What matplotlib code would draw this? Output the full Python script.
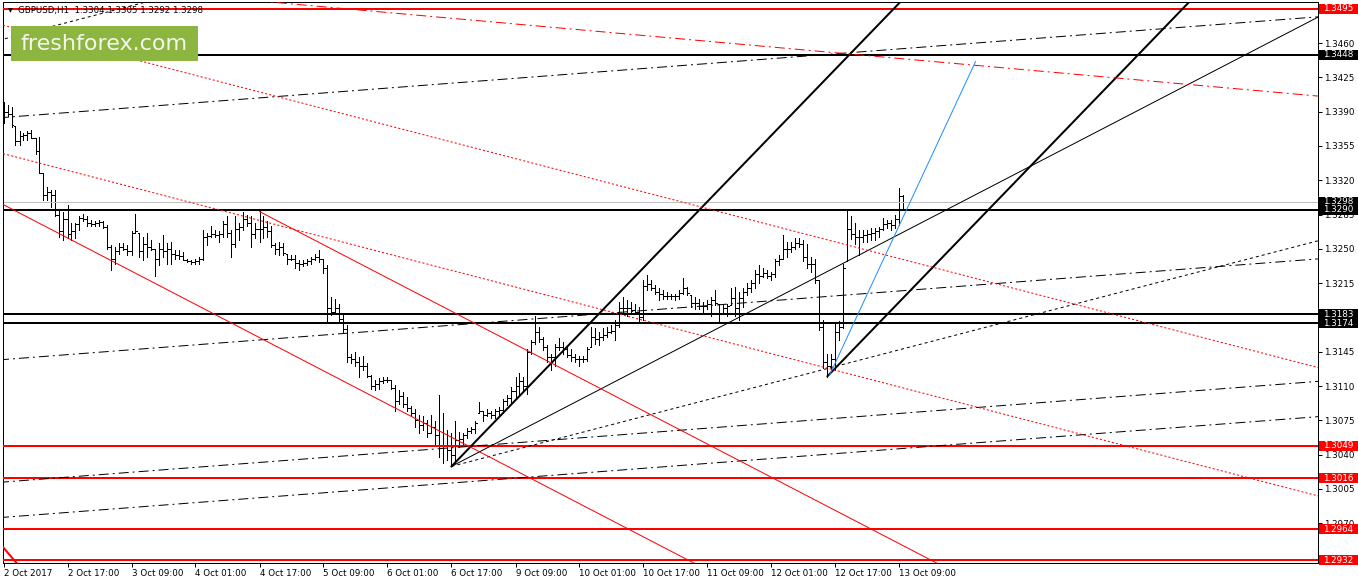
import matplotlib
matplotlib.use("Agg")
import matplotlib.pyplot as plt
import numpy as np
from matplotlib.collections import LineCollection
from matplotlib.patches import Rectangle
from matplotlib.transforms import blended_transform_factory

plt.rcParams['font.family'] = ['DejaVu Sans']
plt.rcParams['lines.scale_dashes'] = False

# GBPUSD H1 bars, prices in pips (13400 -> 1.3400), one entry per hour
highs = [
    13400, 13397, 13395, 13375, 13370, 13368, 13370, 13371, 13363, 13364,
    13327, 13313, 13310, 13310, 13290, 13288, 13295, 13276, 13276, 13283,
    13286, 13283, 13279, 13278, 13279, 13278, 13274, 13254, 13252, 13256,
    13256, 13254, 13268, 13286, 13266, 13262, 13266, 13259, 13250, 13256,
    13264, 13256, 13257, 13249, 13249, 13247, 13240, 13239, 13240, 13242,
    13269, 13266, 13273, 13269, 13268, 13278, 13283, 13269, 13283, 13276,
    13288, 13284, 13283, 13276, 13290, 13283, 13278, 13273, 13256, 13257,
    13256, 13245, 13244, 13244, 13239, 13239, 13240, 13242, 13245, 13249,
    13240, 13233, 13201, 13199, 13194, 13182, 13172, 13143, 13145, 13140,
    13141, 13133, 13121, 13116, 13118, 13119, 13119, 13116, 13111, 13106,
    13104, 13099, 13090, 13087, 13080, 13079, 13075, 13080, 13074, 13101,
    13082, 13065, 13062, 13074, 13063, 13062, 13067, 13068, 13074, 13094,
    13084, 13087, 13085, 13087, 13089, 13097, 13101, 13109, 13119, 13123,
    13119, 13148, 13157, 13181, 13170, 13160, 13152, 13143, 13153, 13159,
    13155, 13150, 13148, 13143, 13141, 13141, 13150, 13170, 13169, 13165,
    13169, 13170, 13172, 13177, 13196, 13201, 13198, 13196, 13194, 13191,
    13218, 13223, 13218, 13213, 13210, 13208, 13206, 13204, 13204, 13208,
    13220, 13211, 13203, 13201, 13199, 13196, 13198, 13201, 13208, 13194,
    13194, 13194, 13210, 13211, 13206, 13210, 13215, 13218, 13228, 13233,
    13230, 13228, 13226, 13240, 13244, 13264, 13257, 13257, 13261, 13261,
    13259, 13255, 13242, 13240, 13218, 13177, 13143, 13143, 13174, 13176,
    13235, 13289, 13283, 13276, 13269, 13269, 13269, 13271, 13271, 13272,
    13281, 13279, 13279, 13284, 13312, 13305,
]
lows = [
    13378, 13386, 13374, 13356, 13356, 13361, 13361, 13363, 13347, 13327,
    13300, 13300, 13293, 13283, 13262, 13259, 13261, 13259, 13261, 13269,
    13278, 13273, 13273, 13273, 13273, 13271, 13250, 13228, 13235, 13245,
    13249, 13244, 13244, 13266, 13242, 13239, 13242, 13249, 13222, 13233,
    13242, 13235, 13235, 13240, 13240, 13239, 13237, 13235, 13235, 13235,
    13239, 13254, 13262, 13262, 13257, 13262, 13262, 13242, 13252, 13259,
    13269, 13273, 13252, 13261, 13257, 13261, 13262, 13252, 13245, 13244,
    13244, 13235, 13239, 13230, 13228, 13232, 13233, 13235, 13239, 13237,
    13225, 13174, 13182, 13184, 13174, 13164, 13135, 13133, 13130, 13119,
    13126, 13119, 13107, 13106, 13107, 13113, 13114, 13107, 13085, 13092,
    13089, 13085, 13079, 13068, 13062, 13065, 13058, 13062, 13050, 13038,
    13031, 13034, 13029, 13031, 13048, 13051, 13057, 13062, 13062, 13082,
    13074, 13079, 13077, 13077, 13079, 13082, 13091, 13092, 13097, 13101,
    13106, 13102, 13143, 13153, 13155, 13147, 13135, 13126, 13130, 13147,
    13143, 13140, 13136, 13135, 13130, 13135, 13136, 13150, 13153, 13152,
    13157, 13160, 13164, 13157, 13170, 13184, 13181, 13186, 13184, 13174,
    13177, 13208, 13208, 13204, 13198, 13199, 13199, 13199, 13198, 13199,
    13204, 13203, 13191, 13189, 13189, 13184, 13189, 13181, 13193, 13174,
    13184, 13181, 13193, 13181, 13177, 13191, 13203, 13206, 13210, 13215,
    13221, 13220, 13218, 13221, 13233, 13240, 13242, 13247, 13250, 13252,
    13238, 13230, 13226, 13215, 13167, 13128, 13119, 13124, 13126, 13157,
    13169, 13238, 13260, 13255, 13244, 13257, 13257, 13259, 13259, 13262,
    13269, 13271, 13269, 13271, 13274, 13292,
]
closes = [
    13390, 13388, 13376, 13360, 13365, 13366, 13368, 13363, 13350, 13327,
    13305, 13308, 13305, 13285, 13268, 13280, 13265, 13268, 13275, 13281,
    13280, 13276, 13275, 13276, 13277, 13272, 13252, 13240, 13248, 13252,
    13250, 13248, 13266, 13268, 13248, 13255, 13252, 13250, 13240, 13250,
    13248, 13250, 13245, 13244, 13243, 13239, 13238, 13237, 13238, 13240,
    13262, 13263, 13265, 13264, 13265, 13275, 13266, 13255, 13270, 13272,
    13280, 13276, 13265, 13270, 13270, 13272, 13268, 13254, 13250, 13252,
    13246, 13240, 13240, 13236, 13235, 13236, 13238, 13240, 13242, 13240,
    13230, 13190, 13186, 13190, 13178, 13168, 13140, 13138, 13135, 13130,
    13130, 13120, 13110, 13112, 13115, 13116, 13116, 13108, 13095, 13100,
    13092, 13088, 13082, 13075, 13070, 13072, 13062, 13068, 13060, 13050,
    13050, 13045, 13040, 13055, 13056, 13060, 13064, 13066, 13072, 13084,
    13080, 13082, 13080, 13084, 13086, 13095, 13098, 13105, 13110, 13115,
    13110, 13145, 13155, 13165, 13158, 13150, 13140, 13140, 13150, 13150,
    13148, 13142, 13140, 13138, 13138, 13138, 13148, 13160, 13158, 13160,
    13162, 13165, 13166, 13172, 13190, 13190, 13190, 13188, 13186, 13180,
    13212, 13214, 13210, 13206, 13204, 13202, 13202, 13202, 13202, 13205,
    13210, 13205, 13195, 13195, 13192, 13192, 13194, 13198, 13195, 13185,
    13190, 13192, 13200, 13190, 13200, 13206, 13210, 13215, 13224, 13222,
    13225, 13222, 13224, 13238, 13240, 13250, 13250, 13252, 13256, 13255,
    13242, 13235, 13235, 13218, 13170, 13135, 13130, 13138, 13165, 13170,
    13230, 13270, 13265, 13262, 13262, 13264, 13265, 13266, 13268, 13270,
    13275, 13276, 13274, 13280, 13304, 13298,
]
first_open = 13392

time_labels = ["2 Oct 2017", "2 Oct 17:00", "3 Oct 09:00", "4 Oct 01:00",
               "4 Oct 17:00", "5 Oct 09:00", "6 Oct 01:00", "6 Oct 17:00",
               "9 Oct 09:00", "10 Oct 01:00", "10 Oct 17:00", "11 Oct 09:00",
               "12 Oct 01:00", "12 Oct 17:00", "13 Oct 09:00"]
label_bars = [0, 16, 32, 48, 64, 80, 96, 112, 128, 144, 160, 176, 192, 208, 224]

price_ticks = [1.2970, 1.3005, 1.3040, 1.3075, 1.3110, 1.3145, 1.3180,
               1.3215, 1.3250, 1.3285, 1.3320, 1.3355, 1.3390, 1.3425, 1.3460]

red_levels = [1.3495, 1.3049, 1.3016, 1.2964, 1.2932]
black_levels = [1.3448, 1.3290, 1.3183, 1.3174]
bid = 1.3298

# trend objects: bar0, price0, bar1, price1, extend left, extend right, style
trend_lines = [
    (112, 1.3028, 224, 1.3501, False, True, 'thick'),
    (206, 1.3120, 318, 1.3593, False, True, 'thick'),
    (112, 1.3028, 224, 1.3265, False, True, 'thin'),
    (112, 1.3028, 224, 1.3147, False, True, 'dot'),
    (0, 1.3464, 112, 1.3583, True, True, 'dot'),
    (0, 1.3384, 320, 1.3484, True, True, 'dashdot'),
    (0, 1.3137, 320, 1.3237, True, True, 'dashdot'),
    (0, 1.3012, 320, 1.3112, True, True, 'dashdot'),
    (0, 1.2976, 320, 1.3076, True, True, 'dashdot'),
    (69, 1.3501, 320, 1.3409, True, True, 'red_dashdot'),
    (0, 1.3478, 320, 1.3138, True, True, 'red_dot'),
    (0, 1.3347, 320, 1.3007, True, True, 'red_dot'),
    (0, 1.3295, 160, 1.2956, True, True, 'red_thin'),
    (64, 1.3288, 224, 1.2949, False, True, 'red_thin'),
    (0, 1.2945, 10, 1.2897, True, True, 'red_thick'),
    (206.5, 1.3121, 243, 1.3441, False, False, 'blue'),
]

PX = 0.72  # one pixel in points at dpi 100
styles = {
    'thick': dict(color='black', lw=2 * PX, ls='-'),
    'thin': dict(color='black', lw=PX, ls='-'),
    'dot': dict(color='black', lw=PX, ls=(0, (2.2, 2.2))),
    'dashdot': dict(color='black', lw=PX, ls=(0, (7.2, 2.9, 1.4, 2.9))),
    'red_dashdot': dict(color='red', lw=PX, ls=(0, (7.2, 2.9, 1.4, 2.9))),
    'red_dot': dict(color='red', lw=PX, ls=(0, (1.5, 1.5))),
    'red_thin': dict(color='red', lw=PX, ls='-'),
    'red_thick': dict(color='red', lw=2 * PX, ls='-'),
    'blue': dict(color='#1e90ff', lw=PX, ls='-'),
}

W, H = 1358, 584
fig = plt.figure(figsize=(W / 100, H / 100), dpi=100, facecolor='white')
ax = fig.add_axes([3 / W, (H - 563) / H, 1315 / W, 561 / H])
ax.set_xlim(-0.125, 328.625)
ax.set_ylim(1.3460 - 520 / 9800, 1.3460 + 41 / 9800)

hi = np.array(highs) / 10000
lo = np.array(lows) / 10000
cl = np.array(closes) / 10000
op = np.clip(np.r_[first_open / 10000, cl[:-1]], lo, hi)
t = np.arange(len(hi))

segs = []
for i in range(len(t)):
    segs.append([(t[i], lo[i]), (t[i], hi[i])])
    segs.append([(t[i] - 0.3, op[i]), (t[i], op[i])])
    segs.append([(t[i], cl[i]), (t[i] + 0.3, cl[i])])
ax.add_collection(LineCollection(segs, colors='black', linewidths=PX,
                                 antialiased=False, zorder=2))

# horizontal levels
ax.axhline(bid, color='#c0c0c0', lw=PX, zorder=2.5, antialiased=False)
for p in red_levels:
    ax.axhline(p, color='red', lw=2 * PX, zorder=3, antialiased=False)
for p in black_levels:
    ax.axhline(p, color='black', lw=2 * PX, zorder=3, antialiased=False)

# trend lines
for t0, p0, t1, p1, ext_l, ext_r, st in trend_lines:
    slope = (p1 - p0) / (t1 - t0)
    ta = -5 if ext_l else t0
    tb = 345 if ext_r else t1
    ax.plot([ta, tb], [p0 + slope * (ta - t0), p0 + slope * (tb - t0)],
            zorder=3, **styles[st])

# axes frame and ticks
for s in ax.spines.values():
    s.set_linewidth(PX)
    s.set_color('black')
ax.yaxis.tick_right()
ax.set_yticks(price_ticks)
ax.set_yticklabels([f"{p:.4f}" for p in price_ticks])
ax.tick_params(axis='y', direction='out', length=4 * PX, width=PX,
               pad=1.5, labelsize=6.3, colors='black')
ax.set_xticks(label_bars)
ax.set_xticklabels(time_labels)
for lab in ax.get_xticklabels():
    lab.set_ha('left')
ax.tick_params(axis='x', direction='out', length=4 * PX, width=PX,
               pad=1.2, labelsize=6.3, colors='black')

# price boxes on the right scale
tr = blended_transform_factory(ax.transAxes, ax.transData)
box_h = 10 / 9800
box_list = [(bid, 'black')] + [(p, 'black') for p in black_levels] + \
           [(p, 'red') for p in red_levels]
for p, col in box_list:
    ax.add_patch(Rectangle((1316 / 1315, p - box_h / 2), 39 / 1315, box_h,
                           transform=tr, facecolor=col, edgecolor='none',
                           clip_on=False, zorder=6))
    ax.text(1320 / 1315, p, f"{p:.4f}", transform=tr, color='white',
            fontsize=6.3, va='center', ha='left', clip_on=False, zorder=7)

# header and logo
fig.text(8 / W, 1 - 11 / H, '\u25bc', fontsize=4.5, va='center', ha='left',
         color='black', zorder=10)
fig.text(18 / W, 1 - 11 / H, 'GBPUSD,H1  1.3304 1.3305 1.3292 1.3298',
         fontsize=6.2, va='center', ha='left', color='black', zorder=10)
fig.add_artist(Rectangle((11 / W, 1 - 61 / H), 187 / W, 35 / H,
                         transform=fig.transFigure, facecolor='#8db641',
                         edgecolor='none', zorder=10))
fig.text(104 / W, 1 - 44 / H, 'freshforex.com', fontsize=16, va='center',
         ha='center', color='#f4f6ee', zorder=11)

fig.savefig('out.png', dpi=100, facecolor='white')
